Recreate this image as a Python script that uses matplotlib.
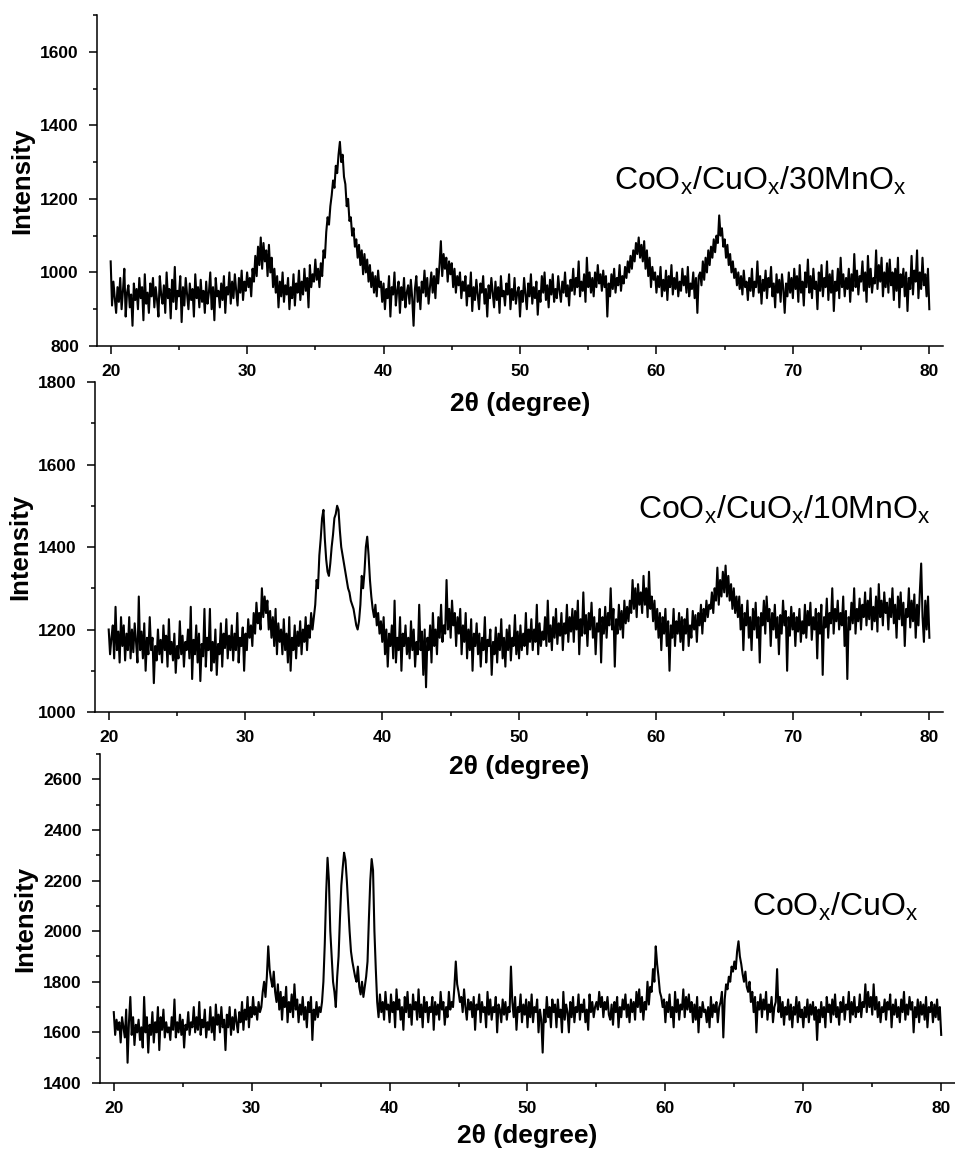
import numpy as np
import matplotlib
matplotlib.use("Agg")
import matplotlib.pyplot as plt
from matplotlib.ticker import MultipleLocator

plt.rcParams['font.family'] = ['Liberation Sans', 'DejaVu Sans']
plt.rcParams['mathtext.fontset'] = 'custom'
plt.rcParams['mathtext.rm'] = 'Liberation Sans'

# CoOx/CuOx/30MnOx intensities, 2theta = 20.0 .. 80.0 step 0.1
int_30mn = [
    1030, 910, 975, 930, 890, 960, 920, 985, 900, 950,
    1010, 880, 945, 965, 905, 940, 855, 970, 925, 955,
    900, 985, 930, 960, 870, 995, 915, 945, 890, 970,
    935, 985, 905, 960, 925, 880, 990, 940, 915, 965,
    890, 1000, 930, 955, 875, 980, 920, 1015, 900, 950,
    935, 990, 865, 960, 910, 985, 940, 900, 970, 925,
    955, 880, 995, 930, 960, 905, 980, 920, 950, 890,
    975, 915, 945, 1000, 900, 960, 870, 985, 935, 950,
    905, 970, 925, 990, 890, 960, 940, 1000, 915, 975,
    930, 995, 950, 910, 985, 945, 1005, 925, 975, 950,
    1000, 960, 985, 935, 1010, 975, 1045, 990, 1070, 1020,
    1095, 1010, 1080, 1030, 1060, 990, 1075, 1000, 1040, 960,
    1010, 945, 990, 905, 975, 935, 1000, 920, 965, 940,
    985, 900, 960, 930, 995, 910, 970, 945, 1005, 925,
    975, 940, 1010, 950, 985, 905, 1020, 960, 995, 975,
    1035, 980, 1010, 960, 1025, 990, 1060, 1040, 1110, 1150,
    1130, 1180, 1210, 1250, 1230, 1290, 1270, 1320, 1355, 1300,
    1320, 1260, 1240, 1180, 1200, 1140, 1150, 1100, 1120, 1070,
    1090, 1040, 1075, 1020, 1060, 995, 1050, 1000, 1035, 975,
    1020, 960, 1000, 945, 990, 935, 1005, 960, 975, 920,
    970, 900, 955, 930, 990, 880, 960, 940, 1000, 910,
    950, 975, 890, 960, 925, 985, 905, 945, 965, 915,
    980, 930, 855, 955, 990, 920, 960, 900, 975, 945,
    1005, 935, 985, 915, 960, 1000, 945, 990, 930, 1010,
    970, 1020, 1085, 990, 1050, 1010, 1040, 975, 1030, 995,
    1025, 960, 1010, 945, 990, 965, 1000, 930, 975, 950,
    990, 910, 965, 935, 1000, 895, 960, 925, 980, 940,
    900, 970, 945, 990, 915, 955, 880, 965, 930, 985,
    945, 905, 975, 925, 960, 890, 990, 935, 950, 910,
    970, 940, 995, 900, 955, 925, 985, 915, 945, 960,
    880, 950, 920, 985, 940, 900, 970, 935, 995, 915,
    960, 930, 975, 885, 950, 920, 990, 945, 1000, 925,
    965, 905, 980, 940, 995, 920, 955, 930, 990, 950,
    920, 975, 945, 1000, 935, 965, 910, 980, 950, 1010,
    940, 985, 960, 1030, 935, 975, 950, 995, 920, 1040,
    960, 1000, 945, 985, 935, 1000, 960, 1020, 970, 995,
    950, 1005, 960, 990, 880, 970, 935, 995, 955, 1010,
    945, 985, 965, 1020, 950, 990, 970, 1015, 985, 1030,
    1000, 1045, 1010, 1060, 1030, 1080, 1050, 1095, 1040, 1075,
    1030, 1085, 1010, 1060, 990, 1040, 960, 1015, 980, 1000,
    945, 990, 960, 1015, 935, 980, 950, 1005, 925, 990,
    960, 1020, 940, 985, 955, 1000, 935, 975, 950, 1010,
    965, 990, 945, 1015, 935, 970, 955, 1000, 930, 985,
    890, 990, 1000, 965, 1030, 980, 1040, 1000, 1060, 1020,
    1070, 1040, 1090, 1055, 1100, 1080, 1155, 1100, 1120, 1070,
    1090, 1040, 1075, 1020, 1050, 1000, 1030, 985, 1010, 965,
    1000, 955, 990, 940, 1005, 960, 975, 925, 985, 950,
    1010, 935, 975, 960, 1030, 945, 990, 915, 980, 950,
    1005, 930, 985, 960, 1015, 935, 970, 905, 995, 945,
    980, 920, 995, 955, 890, 970, 935, 1000, 945, 985,
    930, 1010, 955, 990, 920, 1020, 945, 975, 910, 1000,
    960, 1035, 945, 990, 930, 1010, 955, 975, 900, 1000,
    950, 1020, 935, 985, 960, 1030, 925, 995, 945, 1005,
    895, 975, 950, 1010, 930, 1040, 960, 995, 935, 985,
    955, 1010, 920, 995, 950, 1050, 960, 1005, 940, 990,
    975, 1030, 950, 1000, 920, 1045, 960, 1010, 945, 985,
    970, 1060, 955, 1020, 975, 1040, 935, 1000, 960, 1025,
    945, 1035, 965, 1000, 925, 1010, 950, 1040, 905, 995,
    960, 1010, 935, 1000, 895, 985, 955, 1045, 940, 1005,
    975, 1060, 930, 1000, 955, 1040, 965, 995, 935, 1010,
    900,
]

# CoOx/CuOx/10MnOx intensities
int_10mn = [
    1200, 1140, 1180, 1210, 1130, 1255, 1150, 1195, 1120, 1230,
    1160, 1210, 1125, 1190, 1150, 1230, 1130, 1200, 1145, 1215,
    1170, 1120, 1280, 1150, 1195, 1130, 1215, 1100, 1180, 1140,
    1230, 1150, 1180, 1070, 1160, 1125, 1200, 1140, 1175, 1120,
    1210, 1150, 1185, 1110, 1225, 1140, 1170, 1125, 1190, 1095,
    1160, 1130, 1220, 1140, 1185, 1110, 1170, 1150, 1200, 1130,
    1255, 1080, 1175, 1140, 1210, 1120, 1190, 1075, 1165, 1135,
    1250, 1110, 1180, 1150, 1250, 1100, 1170, 1120, 1200, 1090,
    1165, 1140, 1215, 1110, 1190, 1155, 1225, 1130, 1185, 1150,
    1210, 1125, 1190, 1150, 1240, 1120, 1180, 1160, 1205, 1100,
    1190, 1150, 1225, 1180, 1210, 1160, 1240, 1190, 1265, 1215,
    1240, 1200, 1300, 1230, 1280, 1240, 1270, 1200, 1245, 1180,
    1230, 1160, 1250, 1140, 1215, 1170, 1200, 1140, 1225, 1150,
    1190, 1120, 1230, 1100, 1180, 1150, 1210, 1130, 1195, 1160,
    1220, 1140, 1200, 1170, 1230, 1150, 1210, 1180, 1240, 1200,
    1230, 1260, 1320, 1300, 1380, 1420, 1470, 1490, 1420, 1370,
    1340, 1330, 1360, 1400, 1430, 1470, 1480, 1500, 1490, 1440,
    1400, 1380, 1360, 1340, 1320, 1300, 1290, 1270, 1260, 1250,
    1230, 1210, 1200, 1220, 1260, 1330, 1300, 1340, 1400, 1425,
    1380, 1320, 1280, 1250, 1230, 1260, 1210, 1240, 1190, 1220,
    1170, 1230, 1140, 1200, 1110, 1190, 1160, 1210, 1130, 1270,
    1120, 1180, 1150, 1230, 1100, 1190, 1160, 1210, 1140, 1180,
    1130, 1220, 1150, 1200, 1110, 1170, 1140, 1260, 1150, 1195,
    1090, 1200, 1060, 1180, 1150, 1210, 1120, 1240, 1160, 1200,
    1140, 1230, 1180, 1260, 1170, 1210, 1190, 1320, 1200, 1250,
    1180, 1270, 1210, 1240, 1160, 1230, 1190, 1250, 1140, 1210,
    1170, 1240, 1130, 1200, 1150, 1225, 1100, 1190, 1160, 1215,
    1140, 1190, 1110, 1180, 1150, 1230, 1120, 1175, 1160, 1200,
    1090, 1170, 1140, 1205, 1120, 1190, 1150, 1225, 1130, 1180,
    1110, 1200, 1150, 1210, 1125, 1180, 1160, 1235, 1140, 1195,
    1130, 1210, 1150, 1190, 1160, 1240, 1140, 1200, 1170, 1225,
    1150, 1200, 1170, 1260, 1140, 1215, 1160, 1195, 1175, 1230,
    1160, 1270, 1170, 1210, 1150, 1230, 1180, 1250, 1165, 1215,
    1185, 1240, 1150, 1215, 1190, 1260, 1170, 1230, 1195, 1250,
    1170, 1245, 1200, 1270, 1140, 1225, 1185, 1290, 1190, 1235,
    1160, 1240, 1200, 1265, 1180, 1230, 1140, 1215, 1195, 1250,
    1120, 1230, 1190, 1255, 1180, 1240, 1210, 1300, 1200, 1250,
    1110, 1225, 1190, 1260, 1200, 1245, 1180, 1270, 1215, 1255,
    1220, 1270, 1240, 1320, 1250, 1300, 1230, 1310, 1260, 1290,
    1240, 1330, 1260, 1300, 1230, 1340, 1250, 1280, 1220, 1270,
    1200, 1250, 1180, 1240, 1150, 1230, 1190, 1250, 1160, 1220,
    1100, 1210, 1180, 1250, 1160, 1220, 1190, 1240, 1170, 1230,
    1150, 1225, 1190, 1250, 1160, 1210, 1180, 1245, 1200, 1235,
    1170, 1240, 1210, 1260, 1190, 1250, 1220, 1270, 1230, 1260,
    1250, 1290, 1240, 1300, 1270, 1350, 1260, 1320, 1280, 1340,
    1290, 1355, 1280, 1330, 1270, 1310, 1250, 1300, 1240, 1280,
    1230, 1280, 1200, 1260, 1150, 1240, 1210, 1270, 1180, 1230,
    1150, 1250, 1200, 1265, 1180, 1230, 1120, 1240, 1210, 1270,
    1190, 1280, 1220, 1250, 1160, 1240, 1200, 1260, 1180, 1230,
    1140, 1235, 1190, 1270, 1210, 1245, 1100, 1230, 1185, 1255,
    1200, 1240, 1160, 1230, 1195, 1250, 1170, 1220, 1190, 1260,
    1180, 1245, 1210, 1265, 1175, 1230, 1200, 1250, 1130, 1240,
    1190, 1260, 1090, 1230, 1205, 1275, 1180, 1240, 1215, 1300,
    1190, 1250, 1220, 1270, 1200, 1240, 1210, 1280, 1160, 1245,
    1080, 1230, 1200, 1265, 1215, 1300, 1190, 1250, 1220, 1275,
    1200, 1260, 1230, 1290, 1210, 1270, 1225, 1300, 1200, 1255,
    1220, 1280, 1195, 1310, 1230, 1270, 1210, 1290, 1240, 1265,
    1200, 1275, 1230, 1300, 1215, 1260, 1180, 1280, 1225, 1290,
    1210, 1265, 1160, 1250, 1230, 1300, 1205, 1270, 1220, 1285,
    1180, 1260, 1210, 1290, 1360, 1230, 1170, 1270, 1200, 1280,
    1180,
]

# CoOx/CuOx intensities
int_0mn = [
    1680, 1590, 1650, 1610, 1640, 1560, 1660, 1620, 1580, 1690,
    1480, 1640, 1740, 1590, 1660, 1550, 1630, 1600, 1650, 1570,
    1620, 1540, 1740, 1600, 1660, 1520, 1630, 1590, 1680, 1560,
    1640, 1600, 1700, 1530, 1660, 1610, 1690, 1580, 1640, 1600,
    1620, 1570, 1660, 1610, 1730, 1580, 1640, 1600, 1670, 1590,
    1650, 1540, 1630, 1610, 1680, 1590, 1640, 1620, 1700, 1600,
    1660, 1610, 1720, 1590, 1650, 1620, 1690, 1580, 1640, 1610,
    1700, 1600, 1660, 1570, 1710, 1630, 1670, 1600, 1700, 1620,
    1650, 1530, 1670, 1620, 1700, 1590, 1660, 1610, 1690, 1640,
    1600, 1680, 1640, 1720, 1610, 1690, 1650, 1740, 1620, 1700,
    1660, 1740, 1670, 1700, 1650, 1720, 1680, 1700, 1760, 1800,
    1740, 1820, 1940, 1850, 1810, 1780, 1840, 1760, 1720, 1790,
    1690, 1760, 1650, 1740, 1700, 1780, 1640, 1720, 1680, 1750,
    1660, 1790, 1690, 1730, 1640, 1710, 1670, 1740, 1650, 1700,
    1620, 1720, 1680, 1740, 1570, 1690, 1650, 1720, 1660, 1700,
    1680, 1720, 1800, 1950, 2150, 2290, 2200, 2000, 1900, 1800,
    1760, 1700, 1820, 1900, 2050, 2180, 2250, 2310, 2280, 2200,
    2100, 2000, 1920, 1880, 1850, 1820, 1800, 1860, 1780, 1750,
    1800, 1740, 1780, 1820, 1880, 2050, 2200, 2285, 2240, 2000,
    1850, 1720, 1660, 1750, 1680, 1720, 1650, 1760, 1690, 1710,
    1640, 1750, 1680, 1720, 1620, 1770, 1690, 1730, 1650, 1700,
    1610, 1740, 1680, 1760, 1660, 1710, 1630, 1750, 1690, 1720,
    1650, 1770, 1660, 1710, 1620, 1740, 1680, 1720, 1640, 1700,
    1680, 1740, 1610, 1720, 1670, 1710, 1650, 1760, 1690, 1720,
    1630, 1700, 1660, 1760, 1690, 1720, 1700, 1780, 1880, 1790,
    1760, 1720, 1740, 1680, 1770, 1700, 1650, 1730, 1690, 1720,
    1660, 1740, 1610, 1710, 1690, 1750, 1640, 1720, 1680, 1700,
    1620, 1760, 1670, 1730, 1650, 1700, 1680, 1740, 1600, 1710,
    1690, 1640, 1730, 1670, 1720, 1650, 1700, 1680, 1860, 1720,
    1660, 1740, 1610, 1700, 1680, 1750, 1640, 1710, 1670, 1730,
    1620, 1720, 1660, 1750, 1640, 1700, 1680, 1730, 1600, 1690,
    1650, 1520, 1690, 1640, 1740, 1660, 1700, 1620, 1730, 1680,
    1710, 1620, 1730, 1660, 1690, 1600, 1760, 1650, 1710, 1680,
    1600, 1720, 1660, 1740, 1640, 1700, 1680, 1750, 1650, 1710,
    1680, 1730, 1640, 1690, 1610, 1750, 1680, 1720, 1660, 1700,
    1720, 1690, 1760, 1700, 1740, 1660, 1720, 1690, 1740, 1670,
    1650, 1710, 1630, 1720, 1680, 1740, 1620, 1700, 1660, 1730,
    1690, 1750, 1660, 1710, 1640, 1730, 1680, 1720, 1650, 1760,
    1700, 1770, 1680, 1740, 1650, 1720, 1690, 1800, 1710, 1780,
    1760, 1850, 1800, 1940, 1870, 1820, 1760, 1740, 1700, 1730,
    1640, 1720, 1680, 1750, 1660, 1700, 1620, 1760, 1680, 1730,
    1650, 1710, 1690, 1770, 1660, 1740, 1690, 1750, 1680, 1720,
    1640, 1710, 1650, 1740, 1600, 1700, 1660, 1720, 1680, 1690,
    1640, 1700, 1620, 1740, 1660, 1710, 1680, 1720, 1640, 1700,
    1720, 1760, 1580, 1730, 1790, 1770, 1820, 1800, 1860, 1840,
    1880, 1850, 1920, 1960, 1900, 1870, 1830, 1800, 1840, 1780,
    1760, 1800, 1720, 1760, 1680, 1740, 1600, 1720, 1690, 1750,
    1660, 1730, 1690, 1760, 1650, 1710, 1680, 1740, 1640, 1700,
    1720, 1850, 1680, 1740, 1660, 1720, 1630, 1700, 1670, 1730,
    1650, 1710, 1620, 1700, 1670, 1740, 1640, 1720, 1660, 1690,
    1620, 1700, 1660, 1730, 1640, 1710, 1670, 1720, 1650, 1700,
    1570, 1690, 1640, 1720, 1660, 1700, 1620, 1740, 1680, 1710,
    1640, 1730, 1670, 1750, 1660, 1700, 1630, 1720, 1680, 1740,
    1650, 1710, 1690, 1760, 1640, 1720, 1670, 1740, 1660, 1700,
    1680, 1750, 1660, 1720, 1700, 1790, 1680, 1760, 1700, 1740,
    1670, 1790, 1690, 1740, 1660, 1720, 1640, 1700, 1680, 1730,
    1650, 1720, 1690, 1750, 1620, 1710, 1670, 1730, 1660, 1700,
    1640, 1730, 1680, 1760, 1650, 1710, 1670, 1740, 1690, 1720,
    1600, 1700, 1660, 1730, 1640, 1720, 1670, 1710, 1650, 1740,
    1620, 1700, 1680, 1720, 1640, 1710, 1660, 1730, 1650, 1700,
    1590,
]

labels = [r"CoO$_\mathregular{x}$/CuO$_\mathregular{x}$/30MnO$_\mathregular{x}$",
          r"CoO$_\mathregular{x}$/CuO$_\mathregular{x}$/10MnO$_\mathregular{x}$",
          r"CoO$_\mathregular{x}$/CuO$_\mathregular{x}$"]
series = [int_30mn, int_10mn, int_0mn]
ylims = [(800, 1700), (1000, 1800), (1400, 2700)]
yticks = [np.arange(800, 1601, 200), np.arange(1000, 1801, 200), np.arange(1400, 2601, 200)]
xticks = [20, 30, 40, 50, 60, 70, 80]
label_pos = [(56.9, 1224), (58.7, 1470), (66.3, 2063)]
axes_rects = [(0.1016, 0.6994, 0.8858, 0.2876),
              (0.0995, 0.3814, 0.8880, 0.2867),
              (0.1047, 0.0591, 0.8953, 0.2858)]
xlabel_pads = [9, 7, 6]

fig = plt.figure(figsize=(9.55, 11.51), dpi=100)
for i in range(3):
    ax = fig.add_axes(axes_rects[i])
    ax.set_facecolor('none')
    y = series[i]
    x = np.linspace(20, 80, len(y))
    ax.plot(x, y, color='black', linewidth=1.5)
    ax.set_xlim(19, 81)
    ax.set_ylim(*ylims[i])
    ax.set_xticks(xticks)
    ax.set_yticks(yticks[i])
    ax.xaxis.set_minor_locator(MultipleLocator(5))
    ax.yaxis.set_minor_locator(MultipleLocator(100))
    for s in ['top', 'right']:
        ax.spines[s].set_visible(False)
    for s in ['left', 'bottom']:
        ax.spines[s].set_linewidth(1.1)
    ax.tick_params(which='major', direction='out', length=6, width=1.1,
                   labelsize=12.5, pad=7)
    ax.tick_params(which='minor', direction='out', length=3, width=1.1)
    for t in ax.get_xticklabels() + ax.get_yticklabels():
        t.set_fontweight('bold')
    ax.set_xlabel(r"2θ (degree)", fontsize=19, fontweight='bold',
                  labelpad=xlabel_pads[i])
    ax.set_ylabel("Intensity", fontsize=18.5, fontweight='bold', labelpad=4)
    ax.text(label_pos[i][0], label_pos[i][1], labels[i], fontsize=23,
            ha='left', va='baseline')

fig.savefig("out.png", dpi=100)
